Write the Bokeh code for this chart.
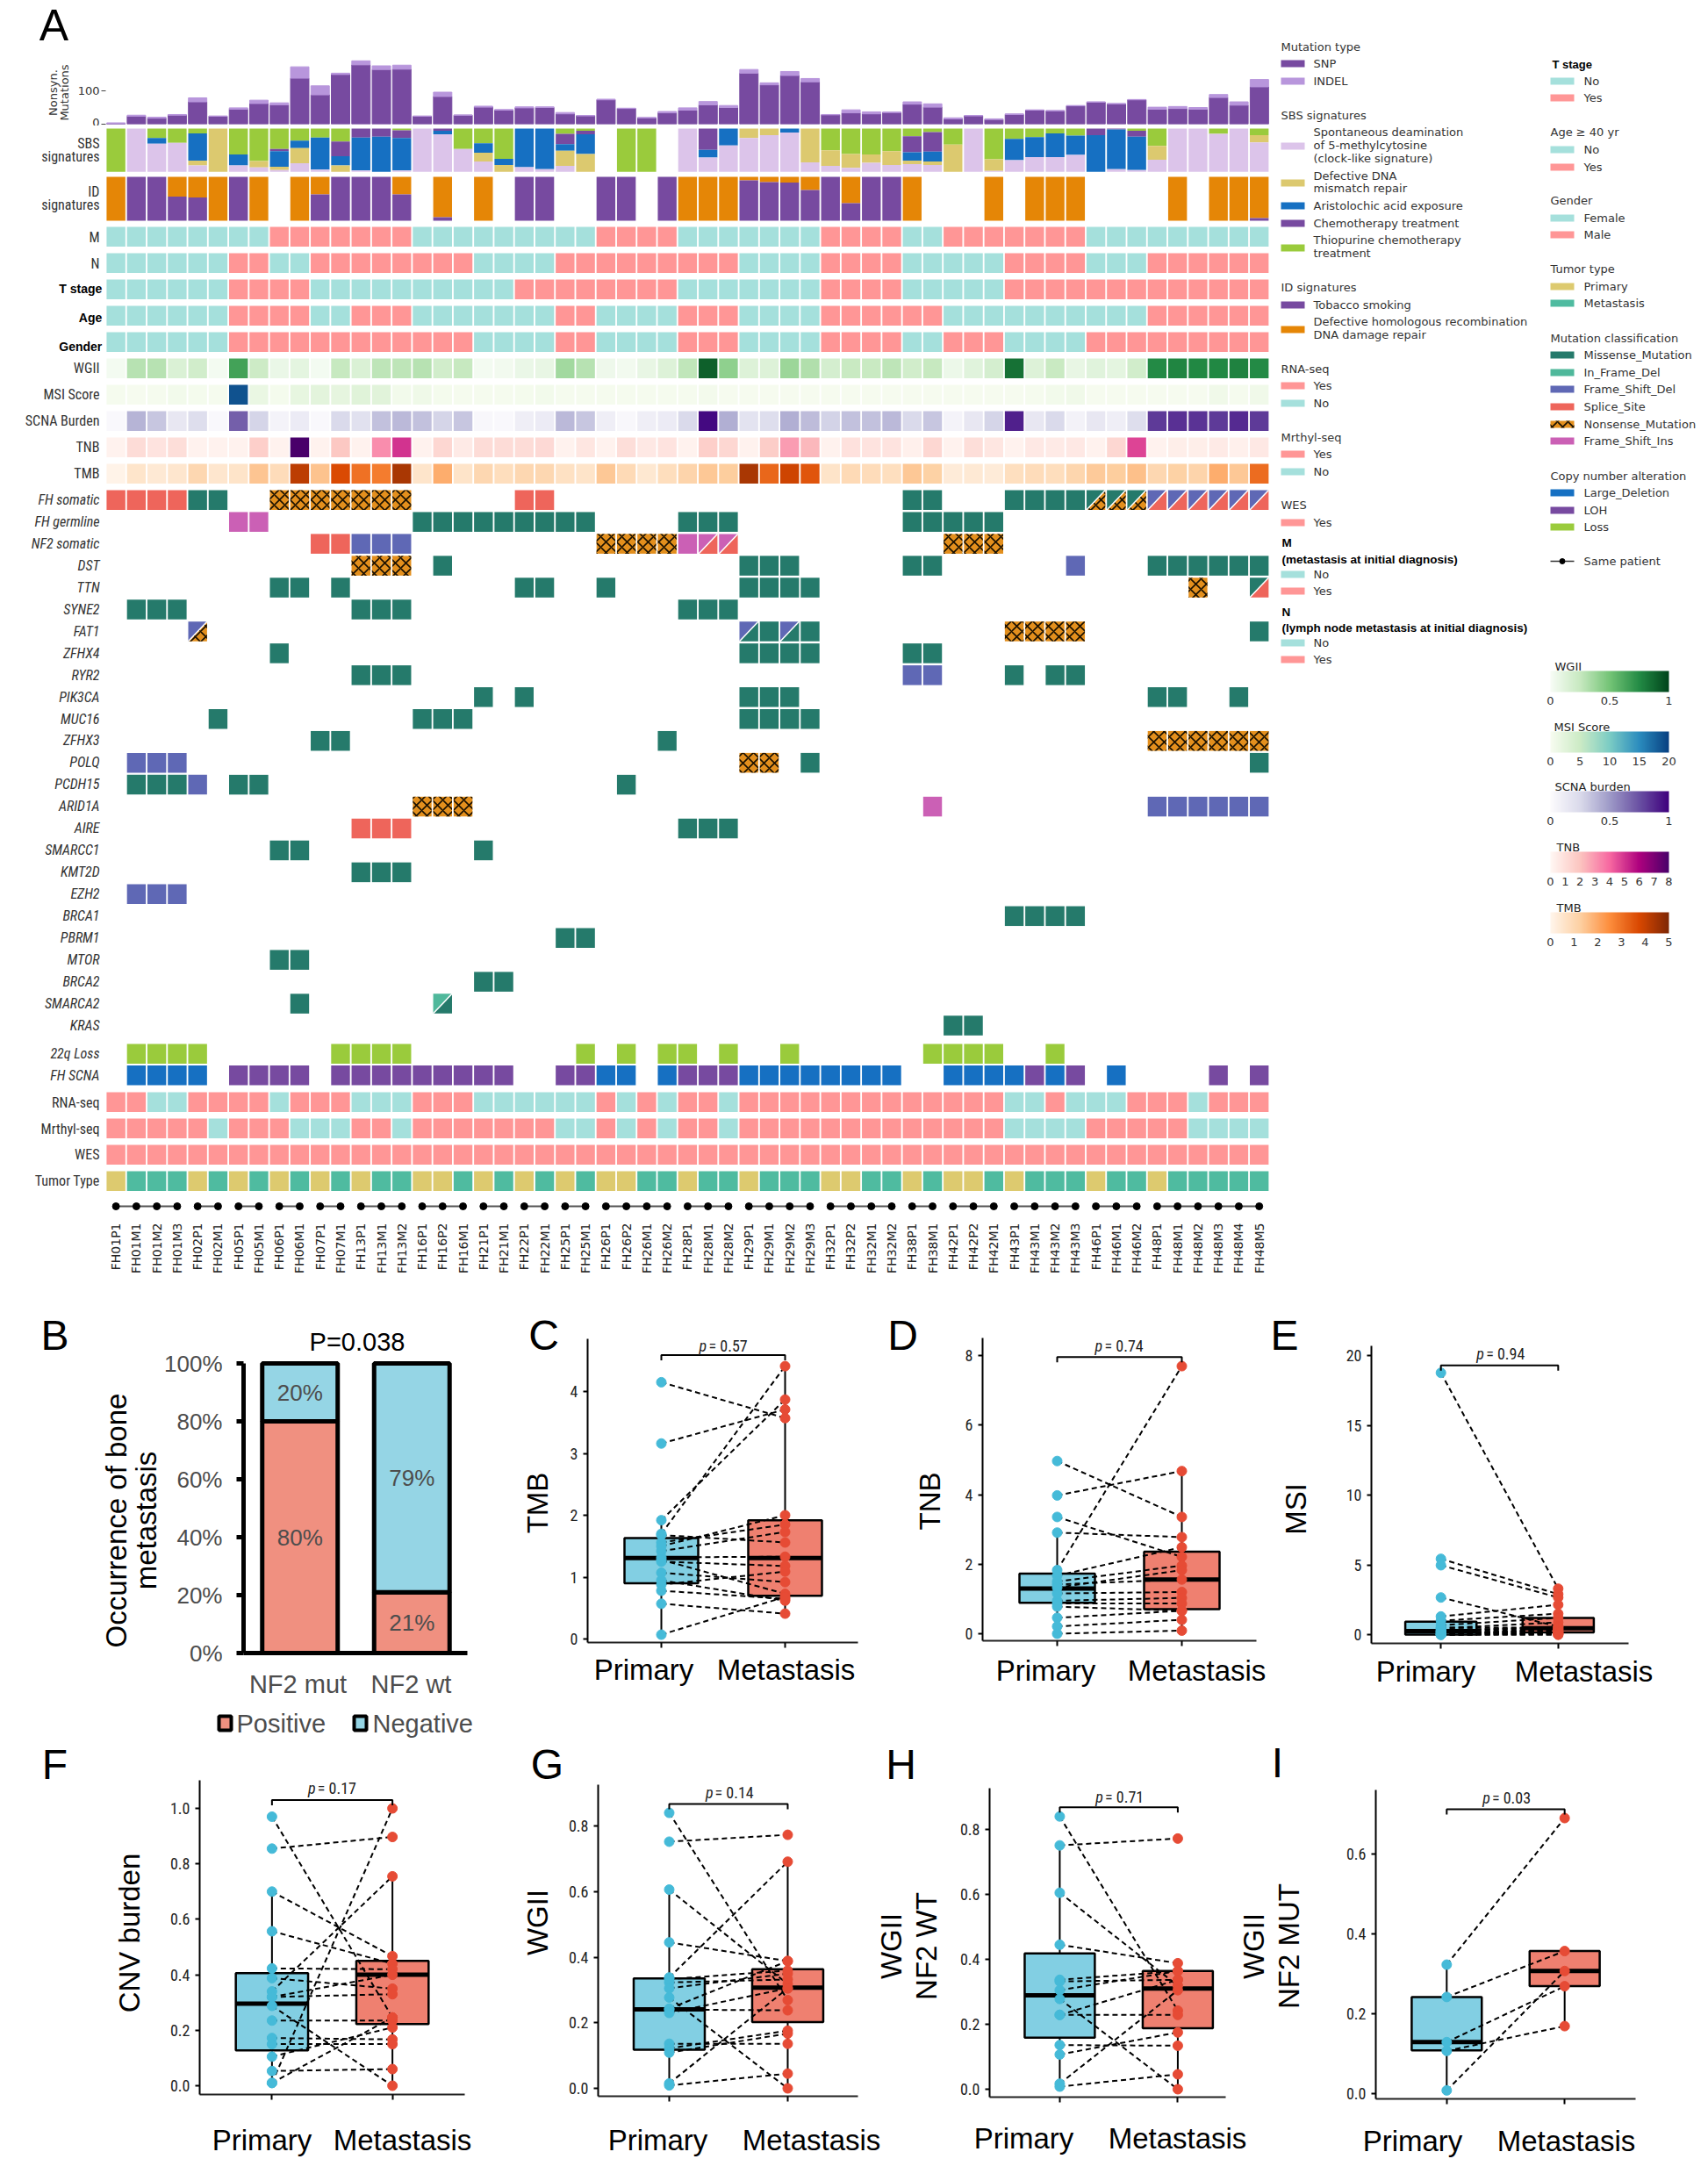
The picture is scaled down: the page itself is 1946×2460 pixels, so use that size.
from bokeh.plotting import figure
from bokeh.layouts import column, row
from bokeh.models import (Range1d, LinearColorMapper, ColorBar, FixedTicker, PrintfTickFormatter, ColumnDataSource)
from bokeh.embed import file_html
from bokeh.resources import INLINE
from bokeh.core.properties import value

# ------------------------------------------------------------------ data: panel A
SAMPLES = ["FH01P1","FH01M1","FH01M2","FH01M3","FH02P1","FH02M1","FH05P1","FH05M1","FH06P1","FH06M1",
           "FH07P1","FH07M1","FH13P1","FH13M1","FH13M2","FH16P1","FH16P2","FH16M1","FH21P1","FH21M1",
           "FH22P1","FH22M1","FH25P1","FH25M1","FH26P1","FH26P2","FH26M1","FH26M2","FH28P1","FH28M1",
           "FH28M2","FH29P1","FH29M1","FH29M2","FH29M3","FH32P1","FH32P2","FH32M1","FH32M2","FH38P1",
           "FH38M1","FH42P1","FH42P2","FH42M1","FH43P1","FH43M1","FH43M2","FH43M3","FH46P1","FH46M1",
           "FH46M2","FH48P1","FH48M1","FH48M2","FH48M3","FH48M4","FH48M5"]
SNP = [2,24,18,27,67,24,45,62,58,138,88,149,178,164,165,24,83,27,51,42,49,50,31,25,73,47,19,34,42,58,
       50,153,118,146,127,28,34,31,35,60,51,16,25,14,29,42,40,55,66,61,73,45,47,45,80,57,112]
INDEL = [2,3,3,2,12,0,4,10,6,34,27,4,12,11,12,0,13,0,3,2,3,2,4,1,2,1,1,4,7,10,
         6,11,6,12,10,1,9,6,1,7,10,3,1,2,2,1,1,1,1,1,1,6,6,5,9,10,22]
SBS_THIO = [100,0,22,33,11,0,60,75,47,28,21,30,0,0,4,0,0,47,34,70,0,0,12,5,0,100,100,0,0,0,
            0,0,0,0,0,50,59,60,52,18,8,37,0,71,24,20,11,16,0,0,5,40,0,0,12,0,15]
SBS_CHEMO = [0,0,0,0,0,0,0,0,5,0,0,34,21,19,18,0,5,0,0,0,0,0,24,8,0,0,0,0,0,49,
             0,0,0,0,0,0,0,0,0,37,45,0,0,0,0,0,0,0,15,2,14,0,0,0,0,0,0]
SBS_ARISTO = [0,0,13,0,63,0,25,0,36,17,74,21,76,81,75,0,8,0,22,14,89,94,15,46,0,0,0,0,0,18,
              39,0,0,9,0,0,0,0,0,19,23,0,0,0,49,46,55,45,85,92,77,0,0,0,0,0,0]
SBS_MMR = [0,0,0,0,11,100,0,15,8,35,0,15,0,0,0,0,0,0,20,16,0,0,35,41,0,0,0,0,0,0,
           0,22,15,0,78,36,32,19,32,8,8,63,0,27,0,0,0,0,0,0,0,32,0,0,0,0,17]
SBS_CLOCK = [0,100,65,67,15,0,15,10,4,20,5,0,3,0,3,100,87,53,24,0,11,6,14,0,0,0,0,0,100,33,
             61,78,85,91,22,14,9,21,16,18,16,0,100,2,27,34,34,39,0,6,4,28,100,100,88,100,68]
ID_TOBACCO = [0,100,100,55,53,0,100,0,0,0,60,100,100,100,60,0,8,0,0,0,100,100,0,0,100,100,0,100,0,0,
              0,92,88,87,70,100,40,100,100,0,0,0,0,0,0,0,0,0,0,0,0,0,0,0,0,0,6]
ID_DHR = [100,0,0,45,47,100,0,100,0,100,40,0,0,0,40,0,92,0,100,0,0,0,0,0,0,0,0,0,100,100,
          100,8,12,13,30,0,60,0,0,100,0,0,0,100,0,100,100,100,0,0,0,0,100,0,100,100,94]
M_STATUS = "0000000011" "1111100000" "0000111100" "0000011110" "0111111100" "0000000"
N_STATUS = "0000001100" "1111111100" "0011111111" "1000011110" "0000111100" "0111111"
T_STATUS = "0000001111" "0000000000" "1111111100" "0000011110" "0000111111" "1111111"
AGE_STATUS = "0000001111" "0011100000" "0011000011" "1000011111" "1000000000" "0111111"
GENDER_STATUS = "0000001111" "1111111100" "0011000011" "1000011110" "0111000011" "1111111"
RNA_STATUS = "1100111101" "1100011100" "0000101011" "0111111111" "1111001000" "1110111"
METHYL_STATUS = "1111101110" "0011011111" "1100101011" "0111111111" "1111000011" "1110000"
WES_STATUS = "1" * 57
WGII = [.02,.3,.3,.15,.2,.02,.65,.22,.07,.1,.02,.25,.15,.28,.28,.3,.2,.25,.02,.03,.07,.08,.36,.3,.05,.03,.08,.14,.27,.9,
        .42,.14,.14,.38,.32,.18,.24,.24,.28,.2,.25,.06,.12,.18,.84,.14,.24,.08,.12,.1,.2,.75,.77,.76,.76,.78,.75]
MSI = [.3,.2,.3,.6,.4,.3,18.8,1.5,.4,1.8,2.4,2,2.7,2.6,.6,1,.4,.3,.3,.3,.4,.7,.3,.3,.3,.3,.3,.3,.3,.5,
       .2,.2,.2,.2,.2,.2,.2,.2,.2,.2,.2,.2,.2,.2,.2,.3,.7,.9,.2,.2,.2,.2,.2,.2,.8,.3,.9]
SCNA = [.02,.4,.33,.15,.22,.02,.7,.27,.06,.12,.02,.25,.2,.35,.38,.35,.27,.33,.03,.02,.1,.12,.38,.33,.1,.03,.1,.12,.25,.97,
        .42,.18,.22,.42,.37,.28,.35,.35,.38,.25,.33,.06,.15,.27,.9,.15,.25,.07,.15,.1,.22,.82,.85,.84,.82,.87,.82]
TNB = [.2,1.1,.8,1,.2,.2,.2,1.6,.2,8,.2,1.9,.2,3.2,5,.2,1.3,.5,1.1,1.1,1.1,1.2,.2,.7,.2,1,.6,.8,.2,1.6,
       1.3,.2,1.7,2.9,2.3,.2,.9,.8,.8,.3,1.3,.2,1,.7,.2,.6,.5,.6,.2,1.3,4.7,.2,.4,.4,.5,.3,.6]
TMB = [.07,.55,.4,.5,1,.5,.6,1.45,.85,4.15,1.5,3.7,3,2.8,4.4,.55,1.9,.6,1,.8,1,1,.7,.6,1.4,.9,.45,.8,1.1,1.4,
       1.3,4.4,3.2,3.9,3.5,.6,.9,.85,.75,1.4,1.2,.35,.4,.35,.75,.85,.8,1.05,1.35,1.3,1.55,1,1.2,1.1,1.9,1.4,3.1]
# M missense, F in-frame del, D frame-shift del, S splice, N nonsense, I frame-shift ins; "A/B" split cell
GENES = ["FH somatic","FH germline","NF2 somatic","DST","TTN","SYNE2","FAT1","ZFHX4","RYR2","PIK3CA","MUC16","ZFHX3",
         "POLQ","PCDH15","ARID1A","AIRE","SMARCC1","KMT2D","EZH2","BRCA1","PBRM1","MTOR","BRCA2","SMARCA2","KRAS"]
GENE_CELLS = {
 "FH somatic": {"S":[0,1,2,3,20,21],"M":[4,5,39,40,44,45,46,47],"N":[8,9,10,11,12,13,14],"M/N":[48,49,50],"D/S":[51,52,53,54,55,56]},
 "FH germline": {"I":[6,7],"M":[15,16,17,18,19,20,21,22,23,28,29,30,39,40,41,42,43]},
 "NF2 somatic": {"S":[10,11],"D":[12,13,14],"N":[24,25,26,27,41,42,43],"I":[28],"I/S":[29,30]},
 "DST": {"N":[12,13,14],"M":[16,31,32,33,39,40,51,52,53,54,55,56],"D":[47]},
 "TTN": {"M":[8,9,11,20,21,24,31,32,33,34],"N":[53],"M/S":[56]},
 "SYNE2": {"M":[1,2,3,12,13,14,28,29,30]},
 "FAT1": {"D/N":[4],"D/M":[31,33],"M":[32,34,56],"N":[44,45,46,47]},
 "ZFHX4": {"M":[8,31,32,33,34,39,40]},
 "RYR2": {"M":[12,13,14,44,46,47],"D":[39,40]},
 "PIK3CA": {"M":[18,20,31,32,33,51,52,55]},
 "MUC16": {"M":[5,15,16,17,31,32,33,34]},
 "ZFHX3": {"M":[10,11,27],"N":[51,52,53,54,55,56]},
 "POLQ": {"D":[1,2,3],"N":[31,32],"M":[34,56]},
 "PCDH15": {"M":[1,2,3,6,7,25],"D":[4]},
 "ARID1A": {"N":[15,16,17],"I":[40],"D":[51,52,53,54,55,56]},
 "AIRE": {"S":[12,13,14],"M":[28,29,30]},
 "SMARCC1": {"M":[8,9,18]},
 "KMT2D": {"M":[12,13,14]},
 "EZH2": {"D":[1,2,3]},
 "BRCA1": {"M":[44,45,46,47]},
 "PBRM1": {"M":[22,23]},
 "MTOR": {"M":[8,9]},
 "BRCA2": {"M":[18,19]},
 "SMARCA2": {"M":[9],"F/M":[16]},
 "KRAS": {"M":[41,42]},
}
LOSS_22Q = [1,2,3,4,11,12,13,14,23,25,27,28,30,33,40,41,42,43,46]
FH_LARGE_DEL = [1,2,3,4,24,25,27,31,32,33,34,35,36,37,38,41,42,43,44,46,49]
FH_LOH = [6,7,8,9,11,12,13,14,15,16,17,18,19,22,23,28,29,30,45,47,54,56]

# ------------------------------------------------------------------ data: panels B - I
B_GROUPS = ["NF2 mut", "NF2 wt"]
B_POSITIVE = [80, 21]
B_NEGATIVE = [20, 79]

TMB_P = [4.15,3.16,1.92,1.70,1.68,1.56,1.50,1.42,1.32,1.28,1.25,1.07,.95,.88,.78,.57,.07]
TMB_M = [3.57,3.71,3.87,4.41,1.56,1.85,2.00,1.73,1.33,.73,1.18,.92,.62,1.09,.65,.41,.68]
TMB_BOX_P = [.07,.90,1.31,1.63,1.92]
TMB_BOX_M = [.41,.70,1.31,1.92,4.41]
TNB_P = [4.97,3.98,3.36,2.91,1.83,1.67,1.50,1.42,1.33,1.16,.95,.87,.78,.46,.21,0]
TNB_M = [3.36,4.68,2.21,2.78,7.7,2.49,1.96,1.56,1.83,1.2,1.03,.87,.66,.66,.4,.09]
TNB_BOX_P = [0,.89,1.30,1.73,2.91]
TNB_BOX_M = [.09,.71,1.56,2.36,4.68]
MSI_P = [18.76,5.43,4.97,2.66,1.3,1.0,.67,.46,.25,.15,.05,0,0,0,.2,.5,.4,.3,.2,.1,0]
MSI_M = [3.29,2.9,2.66,.57,2.14,1.5,1.2,.88,.57,.25,.15,.05,0,.4,.1,.5,.4,.3,.2,.1,0]
MSI_BOX_P = [0,0,.25,.92,1.3]
MSI_BOX_M = [0,.15,.45,1.2,3.29]
CNV_P = [.97,.855,.70,.557,.423,.388,.34,.32,.32,.288,.235,.172,.15,.105,.053,.01,.01]
CNV_M = [.246,.897,.467,.44,.42,.35,.755,.40,.33,0,.235,.167,.15,.21,.06,1.0,.246]
CNV_BOX_P = [.01,.127,.296,.406,.70]
CNV_BOX_M = [0,.222,.40,.45,.755]
WGII_P = [.84,.752,.606,.445,.338,.333,.323,.305,.277,.243,.24,.23,.136,.122,.109,.015,.009]
WGII_M = [.269,.773,.318,.388,.691,.359,.332,.35,0,.388,.238,.305,.136,.176,.167,.305,.045]
WGII_BOX_P = [.009,.118,.241,.335,.606]
WGII_BOX_M = [0,.202,.307,.363,.691]
WT_P = [.84,.751,.605,.445,.337,.332,.305,.278,.229,.229,.136,.107,.017,.008]
WT_M = [.242,.772,.319,.388,.364,.337,.364,0,.229,.337,.134,.175,.305,.046]
WT_BOX_P = [.008,.159,.289,.418,.751]
WT_BOX_M = [0,.188,.31,.364,.388]
MUT_P = [.323,.242,.129,.107,.008]
MUT_M = [.69,.357,.269,.169,.307]
MUT_BOX_P = [.008,.108,.129,.242,.323]
MUT_BOX_M = [.169,.269,.307,.357,.357]
X_NAMES = ["Primary", "Metastasis"]

# ------------------------------------------------------------------ styles
SANS = "Liberation Sans"
NARROW = "Roboto Condensed"
DEJA = "DejaVu Sans"
TEAL, PINK = "#A5E0DC", "#FF9696"
PURPLE, LILAC = "#774AA0", "#B896DC"
CLOCK, MMR, ARISTO, THIO, DHR = "#DCC4EA", "#DCC96F", "#1670C2", "#9ACB3C", "#E58606"
PRIM, META = "#DDCA6F", "#4FBBA0"
MUT_COL = {"M":"#257A6B","F":"#4FB89B","D":"#5F68B5","S":"#EE655B","N":"#E38F1D","I":"#CB60B5"}
LDEL, LOH, LOSS = ARISTO, PURPLE, THIO
HATCH = dict(hatch_pattern="diagonal_cross", hatch_color="#1a1000", hatch_weight=1.6, hatch_scale=12)
B_POS_COL, B_NEG_COL = "#F09080", "#95D5E5"
GREY = "#4d4d4d"


def ramp(stops, n=256):
    rgb = [tuple(int(s[i:i+2], 16) for i in (1, 3, 5)) for s in stops]
    out = []
    for k in range(n):
        t = k / (n - 1) * (len(rgb) - 1)
        a = min(int(t), len(rgb) - 2)
        f = t - a
        out.append("#%02x%02x%02x" % tuple(round(rgb[a][j] * (1 - f) + rgb[a + 1][j] * f) for j in range(3)))
    return out


CMAPS = {
 "WGII": LinearColorMapper(palette=ramp(["#f7fcf5","#c7e9c0","#74c476","#238b45","#00441b"]), low=0, high=1),
 "MSI": LinearColorMapper(palette=ramp(["#f7fcf0","#ccebc5","#7bccc4","#2b8cbe","#084081"]), low=0, high=20),
 "SCNA": LinearColorMapper(palette=ramp(["#fcfbfd","#dadaeb","#9e9ac8","#6a51a3","#3f007d"]), low=0, high=1),
 "TNB": LinearColorMapper(palette=ramp(["#fff7f3","#fcc5c0","#f768a1","#ae017e","#49006a"]), low=0, high=8),
 "TMB": LinearColorMapper(palette=ramp(["#fff5eb","#fdd0a2","#fd8d3c","#d94801","#7f2704"]), low=0, high=5),
}

# ------------------------------------------------------------------ layout constants (page pixels)
PAGE_W = 1946
PITCH = 23.26
X0 = 120.0
LEFT_W = 1450
SPLIT_Y = 143
TOP_END = 1480
B_PANEL_END = 1900
ROW2_PANEL_END = 1882
ROW2_END = 1981
ROW3_END = 2410
PAGE_END = 2460
CELL_H = 22.5
CW = 0.46
FIG = dict(output_backend="svg", toolbar_location=None, min_border=0, frame_align=False)
ROT = 1.5708


def clean(p):
    p.outline_line_color = None
    p.grid.visible = False
    p.background_fill_color = None
    p.border_fill_color = None


def canvas(a, b, top, bottom):
    p = figure(width=b - a, height=bottom - top, x_range=Range1d(a, b), y_range=Range1d(bottom, top),
               x_axis_location=None, y_axis_location=None, **FIG)
    clean(p)
    return p


def text(p, xs, ys, strs, font=DEJA, size=13, style="normal", color="#333333", align="left", baseline="middle", angle=0):
    p.text(x=xs, y=ys, text=strs, text_font=value(font), text_font_size=f"{size}px", text_font_style=style,
           text_color=color, text_align=align, text_baseline=baseline, angle=angle)


def gutter(a, b, top, bottom, letter, ylabels, size=33):
    g = canvas(a, b, top, bottom)
    text(g, [letter[1]], [letter[2]], [letter[0]], SANS, letter[3] if len(letter) > 3 else 48, color="black", align="center")
    for s, lx, ly in ylabels:
        text(g, [lx], [ly], [s], SANS, size, color="black", align="center", angle=ROT)
    return g


# ------------------------------------------------------------------ bars
BAR_BASE, BAR_UNIT = 141, 0.38
gA = canvas(0, 85, 0, SPLIT_Y)
text(gA, [61], [28], ["A"], SANS, 50, color="black", align="center")
text(gA, [60], [105], ["Nonsyn."], DEJA, 13, align="center", angle=ROT)
text(gA, [73], [105], ["Mutations"], DEJA, 13, align="center", angle=ROT)
bars = figure(width=LEFT_W - 85, height=SPLIT_Y, x_range=Range1d(-0.5, 56.5),
              y_range=Range1d(0, BAR_BASE / BAR_UNIT), min_border_left=35,
              min_border_right=4, min_border_top=0, min_border_bottom=2, **FIG)
clean(bars)
xs = list(range(57))
bars.vbar(x=xs, bottom=0, top=SNP, width=.9, color=PURPLE)
bars.vbar(x=xs, bottom=SNP, top=[a + b for a, b in zip(SNP, INDEL)], width=.9, color=LILAC)
bars.xaxis.visible = False
ya = bars.yaxis[0]
ya.ticker = FixedTicker(ticks=[0, 100])
ya.axis_line_color = None
ya.major_tick_in = 0
ya.major_tick_out = 5
ya.major_tick_line_color = "#444444"
ya.major_label_text_font = DEJA
ya.major_label_text_font_size = "13px"
ya.major_label_text_color = "#333333"
ya.major_label_standoff = 2

# ------------------------------------------------------------------ heat map body (y axis is page rows)
heat = figure(width=LEFT_W, height=TOP_END - SPLIT_Y,
              x_range=Range1d(-X0 / PITCH - .5, (LEFT_W - X0) / PITCH - .5),
              y_range=Range1d(TOP_END, SPLIT_Y), x_axis_location=None, y_axis_location=None, **FIG)
clean(heat)


def cells(idx, top, color, h=CELL_H, **kw):
    heat.quad(left=[i - CW for i in idx], right=[i + CW for i in idx], top=[top] * len(idx), bottom=[top + h] * len(idx),
              fill_color=color, line_color=None, **kw)


# SBS and ID stacks
SBS_TOP, SBS_H = 146, 49.3
stack = [(SBS_THIO, THIO), (SBS_CHEMO, PURPLE), (SBS_ARISTO, ARISTO), (SBS_MMR, MMR), (SBS_CLOCK, CLOCK)]
offset = [0.0] * 57
for series, colr in stack:
    lo = [SBS_TOP + o / 100 * SBS_H for o in offset]
    hi = [SBS_TOP + (o + v) / 100 * SBS_H for o, v in zip(offset, series)]
    heat.quad(left=[i - CW for i in xs], right=[i + CW for i in xs], top=lo, bottom=hi, fill_color=colr, line_color=None)
    offset = [o + v for o, v in zip(offset, series)]
ID_TOP, ID_H = 201, 50
heat.quad(left=[i - CW for i in xs], right=[i + CW for i in xs], top=[ID_TOP] * 57,
          bottom=[ID_TOP + v / 100 * ID_H for v in ID_DHR], fill_color=DHR, line_color=None)
heat.quad(left=[i - CW for i in xs], right=[i + CW for i in xs], top=[ID_TOP + v / 100 * ID_H for v in ID_DHR],
          bottom=[ID_TOP + (v + w) / 100 * ID_H for v, w in zip(ID_DHR, ID_TOBACCO)], fill_color=PURPLE, line_color=None)

# binary rows
for status, top in [(M_STATUS, 258), (N_STATUS, 288), (T_STATUS, 318), (AGE_STATUS, 348), (GENDER_STATUS, 378),
                    (RNA_STATUS, 1244), (METHYL_STATUS, 1274), (WES_STATUS, 1304)]:
    cells([i for i, c in enumerate(status) if c == "0"], top, TEAL)
    cells([i for i, c in enumerate(status) if c == "1"], top, PINK)
cells([i for i, s in enumerate(SAMPLES) if s[4] == "P"], 1334, PRIM)
cells([i for i, s in enumerate(SAMPLES) if s[4] == "M"], 1334, META)

# continuous rows
for key, series, top in [("WGII", WGII, 408), ("MSI", MSI, 438), ("SCNA", SCNA, 468), ("TNB", TNB, 498), ("TMB", TMB, 528)]:
    src = ColumnDataSource(dict(left=[i - CW for i in xs], right=[i + CW for i in xs], top=[top] * 57,
                                bottom=[top + CELL_H] * 57, v=series))
    heat.quad(left="left", right="right", top="top", bottom="bottom", source=src, line_color=None,
              fill_color={"field": "v", "transform": CMAPS[key]})

# gene rows
GENE_TOP, GENE_STEP = 558, 24.95
for g, gene in enumerate(GENES):
    top = GENE_TOP + g * GENE_STEP
    for code, idx in GENE_CELLS[gene].items():
        if "/" not in code:
            kw = HATCH if code == "N" else {}
            cells(idx, top, MUT_COL[code], **kw)
        else:
            a, b = code.split("/")
            for i in idx:
                l, r, t, bt = i - CW, i + CW, top, top + CELL_H
                heat.patch([l, r, l], [t, t, bt], fill_color=MUT_COL[a], line_color=None, **(HATCH if a == "N" else {}))
                heat.patch([r, r, l], [t, bt, bt], fill_color=MUT_COL[b], line_color=None, **(HATCH if b == "N" else {}))
                heat.line([l, r], [bt, t], line_color="white", line_width=1.5)
cells(LOSS_22Q, 1189, LOSS)
cells(FH_LARGE_DEL, 1213.5, LDEL)
cells(FH_LOH, 1213.5, LOH)

# same-patient connector and sample ids
patients = [s[:4] for s in SAMPLES]
for pid in sorted(set(patients)):
    idx = [i for i, q in enumerate(patients) if q == pid]
    heat.line([idx[0], idx[-1]], [1374, 1374], line_color="#555555", line_width=2)
heat.scatter(xs, [1374] * 57, marker="circle", size=8, color="black")
text(heat, xs, [1393] * 57, SAMPLES, DEJA, 14, color="#222222", align="right", angle=ROT)

# row labels
LAB_X = (113 - X0) / PITCH - .5
plain = [("SBS", 163), ("signatures", 178), ("ID", 218), ("signatures", 233), ("M", 270), ("N", 300), ("WGII", 419),
         ("MSI Score", 449), ("SCNA Burden", 479), ("TNB", 509), ("TMB", 539), ("RNA-seq", 1256), ("Mrthyl-seq", 1286),
         ("WES", 1315), ("Tumor Type", 1345)]
text(heat, [LAB_X] * len(plain), [q[1] for q in plain], [q[0] for q in plain], NARROW, 16, align="right")
boldrows = [("T stage", 328), ("Age", 361), ("Gender", 394)]
text(heat, [LAB_X + .12] * 3, [q[1] for q in boldrows], [q[0] for q in boldrows], SANS, 14, "bold", "black", "right")
ital = [(g, GENE_TOP + i * GENE_STEP + 11) for i, g in enumerate(GENES)] + [("22q Loss", 1200), ("FH SCNA", 1225)]
text(heat, [LAB_X] * len(ital), [q[1] for q in ital], [q[0] for q in ital], NARROW, 16, style="italic", align="right")

# ------------------------------------------------------------------ legend column (page pixels)
leg = canvas(LEFT_W, PAGE_W, 0, TOP_END)
XA, XA2, XT = 1459, 1486, 1496
XB, XB2, XU = 1766, 1793, 1804
LEG_A_TITLES = [("Mutation type", 53), ("SBS signatures", 131), ("ID signatures", 327), ("RNA-seq", 420), ("Mrthyl-seq", 498), ("WES", 575)]
LEG_A_SWATCH = [(PURPLE, 72), (LILAC, 92), (CLOCK, 166), (MMR, 208), (ARISTO, 234), (PURPLE, 254), (THIO, 282), (PURPLE, 347),
                (DHR, 375), (PINK, 439), (TEAL, 459), (PINK, 517), (TEAL, 537), (PINK, 595), (TEAL, 654), (PINK, 673), (TEAL, 732), (PINK, 751)]
LEG_A_TEXT = [("SNP", 72), ("INDEL", 92), ("Spontaneous deamination", 150), ("of 5-methylcytosine", 165), ("(clock-like signature)", 180),
              ("Defective DNA", 200), ("mismatch repair", 214), ("Aristolochic acid exposure", 234), ("Chemotherapy treatment", 254),
              ("Thiopurine chemotherapy", 273), ("treatment", 288), ("Tobacco smoking", 347), ("Defective homologous recombination", 366),
              ("DNA damage repair", 381), ("Yes", 439), ("No", 459), ("Yes", 517), ("No", 537), ("Yes", 595), ("No", 654), ("Yes", 673),
              ("No", 732), ("Yes", 751)]
LEG_A_BOLD = [("M", 618), ("(metastasis at initial diagnosis)", 637), ("N", 697), ("(lymph node metastasis at initial diagnosis)", 715)]
LEG_B_TITLES = [("Age \u2265 40 yr", 150), ("Gender", 228), ("Tumor type", 306), ("Mutation classification", 385), ("Copy number alteration", 542)]
LEG_B_SWATCH = [(TEAL, 92), (PINK, 111), (TEAL, 170), (PINK, 190), (TEAL, 248), (PINK, 267), (PRIM, 326), (META, 345),
                (MUT_COL["M"], 404), (MUT_COL["F"], 424), (MUT_COL["D"], 443), (MUT_COL["S"], 463), (MUT_COL["I"], 502),
                (LDEL, 561), (LOH, 581), (LOSS, 600)]
LEG_B_TEXT = [("No", 92), ("Yes", 111), ("No", 170), ("Yes", 190), ("Female", 248), ("Male", 267), ("Primary", 326), ("Metastasis", 345),
              ("Missense_Mutation", 404), ("In_Frame_Del", 424), ("Frame_Shift_Del", 443), ("Splice_Site", 463), ("Nonsense_Mutation", 483),
              ("Frame_Shift_Ins", 502), ("Large_Deletion", 561), ("LOH", 581), ("Loss", 600), ("Same patient", 639)]
for col, y in LEG_A_SWATCH:
    leg.quad(left=XA, right=XA2, top=y - 4, bottom=y + 4, fill_color=col, line_color=None)
for col, y in LEG_B_SWATCH:
    leg.quad(left=XB, right=XB2, top=y - 4, bottom=y + 4, fill_color=col, line_color=None)
leg.quad(left=XB, right=XB2, top=479, bottom=487, fill_color=MUT_COL["N"], line_color=None, **HATCH)
leg.line([XB, XB2], [639, 639], line_color="#333333", line_width=1.5)
leg.scatter([(XB + XB2) / 2], [639], marker="circle", size=6, color="black")
text(leg, [XA] * len(LEG_A_TITLES), [q[1] for q in LEG_A_TITLES], [q[0] for q in LEG_A_TITLES])
text(leg, [XT] * len(LEG_A_TEXT), [q[1] for q in LEG_A_TEXT], [q[0] for q in LEG_A_TEXT])
text(leg, [XA + 1] * len(LEG_A_BOLD), [q[1] for q in LEG_A_BOLD], [q[0] for q in LEG_A_BOLD], SANS, 13.5, "bold", "black")
text(leg, [XB] * len(LEG_B_TITLES), [q[1] for q in LEG_B_TITLES], [q[0] for q in LEG_B_TITLES])
text(leg, [XU] * len(LEG_B_TEXT), [q[1] for q in LEG_B_TEXT], [q[0] for q in LEG_B_TEXT])
text(leg, [XB + 2], [73], ["T stage"], SANS, 13, "bold", "black")
COLORBARS = [("WGII", "WGII", [0, .5, 1], 762, 1771), ("MSI", "MSI Score", [0, 5, 10, 15, 20], 831, 1770),
             ("SCNA", "SCNA burden", [0, .5, 1], 899, 1771), ("TNB", "TNB", [0, 1, 2, 3, 4, 5, 6, 7, 8], 968, 1773),
             ("TMB", "TMB", [0, 1, 2, 3, 4, 5], 1037, 1773)]
for key, ttl, ticks, top, tx in COLORBARS:
    cb = ColorBar(color_mapper=CMAPS[key], orientation="horizontal", width=135, height=24, padding=0,
                  location=(1766 - LEFT_W, TOP_END - top - 24 - 19), ticker=FixedTicker(ticks=ticks), major_tick_line_color=None,
                  bar_line_color=None, border_line_color=None, background_fill_color=None, label_standoff=5,
                  major_label_text_font=DEJA, major_label_text_font_size="13px", major_label_text_color="#333333")
    leg.add_layout(cb)
    text(leg, [tx], [top - 3], [ttl], DEJA, 13, color="#222222")


# ------------------------------------------------------------------ panel helpers
def base_panel(fl, fr, rt, rb, left, right, top, bottom, x1, x2, y0, yu):
    ux = x2 - x1
    p = figure(width=fr - fl, height=rb - rt,
               min_border_left=left - fl, min_border_right=fr - right, min_border_top=top - rt, min_border_bottom=rb - bottom,
               x_range=Range1d(1 - (x1 - left) / ux, 2 + (right - x2) / ux),
               y_range=Range1d((y0 - bottom) / yu, (y0 - top) / yu), **FIG)
    clean(p)
    conv = lambda px, py: (1 + (px - x1) / ux, (y0 - py) / yu)
    return p, conv


def paired(fl, fr, rt, rb, left, right, top, bottom, x1, x2, y0, yu, half, prim, met, boxp, boxm, ticks, fmt, br_y, pval, ptx, pty):
    p, conv = base_panel(fl, fr, rt, rb, left, right, top, bottom, x1, x2, y0, yu)
    w = half / (x2 - x1)
    for xc, b, col in [(1, boxp, "#82CFE3"), (2, boxm, "#EF8070")]:
        p.segment([xc], [b[0]], [xc], [b[4]], line_color="black", line_width=2)
        p.quad(left=[xc - w], right=[xc + w], bottom=[b[1]], top=[b[3]], fill_color=col, line_color="black", line_width=2.5)
        p.segment([xc - w], [b[2]], [xc + w], [b[2]], line_color="black", line_width=5)
    p.segment(x0=[1] * len(prim), y0=prim, x1=[2] * len(met), y1=met, line_color="black", line_width=2, line_dash="6 4")
    p.scatter([1] * len(prim), prim, marker="circle", size=11, color="#45BAD8")
    p.scatter([2] * len(met), met, marker="circle", size=11, color="#E64B35")
    d = 6 / yu
    p.line([1, 1, 2, 2], [br_y - d, br_y, br_y, br_y - d], line_color="black", line_width=2)
    ya = p.yaxis[0]
    ya.ticker = FixedTicker(ticks=ticks)
    ya.formatter = PrintfTickFormatter(format=fmt)
    ya.axis_line_width = 2
    ya.axis_line_color = "black"
    ya.major_tick_line_width = 2
    ya.major_tick_in = 0
    ya.major_tick_out = 5
    ya.minor_tick_line_color = None
    ya.major_label_text_font = NARROW
    ya.major_label_text_font_size = "18px"
    ya.major_label_text_color = "#222222"
    ya.major_label_standoff = 6
    xa = p.xaxis[0]
    xa.ticker = FixedTicker(ticks=[1, 2])
    xa.major_label_overrides = {1: "", 2: ""}
    xa.axis_line_width = 2
    xa.axis_line_color = "#222222"
    xa.major_tick_line_width = 2
    xa.major_tick_in = 0
    xa.major_tick_out = 6
    xa.minor_tick_line_color = None
    x_a, y_a = conv(ptx - 27, pty)
    x_b, _ = conv(ptx - 16, pty)
    text(p, [x_a], [y_a], ["p"], NARROW, 18, style="italic", color="#222222")
    text(p, [x_b], [y_a], [f"= {pval}"], NARROW, 18, color="#222222")
    return p


# ------------------------------------------------------------------ row 2
gB = gutter(0, 184, TOP_END, B_PANEL_END, ("B", 62, 1521), [("Occurrence of bone", 132, 1732), ("metastasis", 166, 1732)])
pb, bconv = base_panel(184, 590, TOP_END, B_PANEL_END, 274, 532, 1510, 1883, 339, 468, 1883, 3.3)
BW = 87 / 129 / 2
pb.quad(left=[1 - BW, 2 - BW], right=[1 + BW, 2 + BW], bottom=[0, 0], top=B_POSITIVE, fill_color=B_POS_COL, line_color="black", line_width=5)
pb.quad(left=[1 - BW, 2 - BW], right=[1 + BW, 2 + BW], bottom=B_POSITIVE, top=[a + b for a, b in zip(B_POSITIVE, B_NEGATIVE)],
        fill_color=B_NEG_COL, line_color="black", line_width=5)
pct_y = [v / 2 for v in B_POSITIVE] + [a + b / 2 for a, b in zip(B_POSITIVE, B_NEGATIVE)]
text(pb, [1, 2, 1, 2], pct_y, [f"{v}%" for v in B_POSITIVE + B_NEGATIVE], SANS, 26, color=GREY, align="center")
_px, _py = bconv(405, 1528)
text(pb, [_px], [_py], ["P=0.038"], SANS, 29, color="black", align="center")
ya = pb.yaxis[0]
ya.ticker = FixedTicker(ticks=[0, 20, 40, 60, 80, 100])
ya.formatter = PrintfTickFormatter(format="%d%%")
ya.bounds = (0, 100)
ya.axis_line_width = 5
ya.axis_line_color = "black"
ya.major_tick_line_width = 5
ya.major_tick_in = 0
ya.major_tick_out = 8
ya.minor_tick_line_color = None
ya.major_label_text_font = SANS
ya.major_label_text_font_size = "26px"
ya.major_label_text_color = GREY
ya.major_label_standoff = 16
xa = pb.xaxis[0]
xa.ticker = FixedTicker(ticks=[1, 2])
xa.major_label_overrides = {1: "", 2: ""}
xa.axis_line_width = 5
xa.axis_line_color = "black"
xa.major_tick_line_color = None
xa.minor_tick_line_color = None

stripB = canvas(0, 590, B_PANEL_END, ROW2_END)
text(stripB, [339, 468], [1918, 1918], B_GROUPS, SANS, 29, color=GREY, align="center")
stripB.quad(left=[249, 403], right=[263, 417], top=[1955, 1955], bottom=[1971, 1971], fill_color=[B_POS_COL, B_NEG_COL], line_color="black", line_width=4)
text(stripB, [269, 424], [1963, 1963], ["Positive", "Negative"], SANS, 29, color=GREY)

gC = gutter(590, 640, TOP_END, ROW2_PANEL_END, ("C", 619, 1521), [("TMB", 612, 1712)])
pc = paired(640, 1000, TOP_END, ROW2_PANEL_END, 669, 977, 1525, 1871, 753, 894, 1867, 70.5, 42, TMB_P, TMB_M, TMB_BOX_P, TMB_BOX_M,
            [0, 1, 2, 3, 4], "%d", 4.59, "0.57", 823, 1533)
gD = gutter(1000, 1090, TOP_END, ROW2_PANEL_END, ("D", 1028, 1521), [("TNB", 1059, 1710)])
pd_ = paired(1090, 1440, TOP_END, ROW2_PANEL_END, 1119, 1431, 1524, 1869, 1204, 1346, 1861, 39.6, 43, TNB_P, TNB_M, TNB_BOX_P, TNB_BOX_M,
             [0, 2, 4, 6, 8], "%d", 7.96, "0.74", 1274, 1533)
gE = gutter(1440, 1530, TOP_END, ROW2_PANEL_END, ("E", 1463, 1521), [("MSI", 1476, 1719)])
pe = paired(1530, PAGE_W, TOP_END, ROW2_PANEL_END, 1559, 1855, 1533, 1872, 1639, 1774, 1862, 15.9, 41, MSI_P, MSI_M, MSI_BOX_P, MSI_BOX_M,
            [0, 5, 10, 15, 20], "%d", 19.3, "0.94", 1707, 1542)

stripR = canvas(590, PAGE_W, ROW2_PANEL_END, ROW2_END)
text(stripR, [733, 895, 1191, 1363, 1624, 1804], [1902, 1902, 1903, 1903, 1904, 1904], X_NAMES * 3, SANS, 33, color="black", align="center")

# ------------------------------------------------------------------ row 3
gF = gutter(0, 190, ROW2_END, ROW3_END, ("F", 62, 2010), [("CNV burden", 147, 2202)])
pf = paired(190, 580, ROW2_END, ROW3_END, 221, 529, 2028, 2386, 305, 445, 2376, 316, 42, CNV_P, CNV_M, CNV_BOX_P, CNV_BOX_M,
            [0, .2, .4, .6, .8, 1], "%.1f", 1.03, "0.17", 374, 2037)
gG = gutter(580, 644, ROW2_END, ROW3_END, ("G", 623, 2010), [("WGII", 612, 2190)])
pg = paired(644, 995, ROW2_END, ROW3_END, 670, 977, 2033, 2388, 754, 894, 2379, 373.75, 42, WGII_P, WGII_M, WGII_BOX_P, WGII_BOX_M,
            [0, .2, .4, .6, .8], "%.1f", .867, "0.14", 824, 2042)
gH = gutter(995, 1090, ROW2_END, ROW3_END, ("H", 1026, 2010), [("WGII", 1015, 2217), ("NF2 WT", 1055, 2217)])
ph = paired(1090, 1405, ROW2_END, ROW3_END, 1120, 1396, 2037, 2389, 1202, 1340, 2380, 370, 41, WT_P, WT_M, WT_BOX_P, WT_BOX_M,
            [0, .2, .4, .6, .8], "%.1f", .868, "0.71", 1271, 2047)
gI = gutter(1405, 1530, ROW2_END, ROW3_END, ("I", 1455, 2008), [("WGII", 1428, 2217), ("NF2 MUT", 1468, 2217)])
pi_ = paired(1530, PAGE_W, ROW2_END, ROW3_END, 1559, 1863, 2039, 2391, 1642, 1780, 2385, 455, 41, MUT_P, MUT_M, MUT_BOX_P, MUT_BOX_M,
             [0, .2, .4, .6], "%.1f", .712, "0.03", 1711, 2048)

strip3 = canvas(0, PAGE_W, ROW3_END, PAGE_END)
text(strip3, [298, 458, 749, 924, 1166, 1341, 1609, 1784], [2438, 2438, 2438, 2438, 2436, 2436, 2439, 2439],
     X_NAMES * 4, SANS, 33, color="black", align="center")

page = column(row(column(row(gA, bars), heat), leg),
              row(column(row(gB, pb), stripB),
                  column(row(gC, pc, gD, pd_, gE, pe), stripR)),
              row(gF, pf, gG, pg, gH, ph, gI, pi_),
              strip3)
open("out.html", "w").write(file_html(page, INLINE))
